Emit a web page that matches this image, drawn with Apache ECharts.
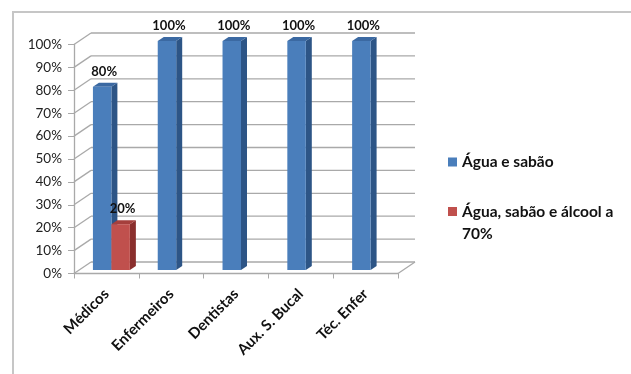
<!DOCTYPE html>
<html>
<head>
<meta charset="utf-8">
<script src="https://cdn.jsdelivr.net/npm/echarts@6/dist/echarts.min.js"></script>
<style>
  html, body { margin: 0; padding: 0; background: #fff; }
  #chart { width: 631px; height: 374px; }
</style>
</head>
<body>
<div id="chart"></div>
<script>
// Produtos usados na higiene das mãos, por categoria profissional
const categories = ['Médicos', 'Enfermeiros', 'Dentistas', 'Aux. S. Bucal', 'Téc. Enfer'];
const seriesNames = ['Água e sabão', 'Água, sabão e álcool a 70%'];
const aguaSabao = [80, 100, 100, 100, 100];
const aguaSabaoAlcool = [20, null, null, null, null];
const yTicks = [0, 10, 20, 30, 40, 50, 60, 70, 80, 90, 100];

// 3D look: offset of the back wall, of the bar faces and of the bar depth
const WALL = [17, -11.5];
const FACE = [5, -3.5];
const SIDE = [6, -4];
const GRID_COLOR = '#a9a9a9';
const FONT = 'Lato, "Open Sans", sans-serif';

const palette = [
  { front: '#4a7ebb', side: '#2d5586', top: '#3b69a2' },
  { front: '#c0504d', side: '#8a2f2d', top: '#a53f3c' }
];

// legend squares: a 9px square inside a 31px tall slot (tiny corner dots fix the box)
const ICON_MIDDLE = 'path://M0,0h0.01v0.01h-0.01zM0,11h9v9h-9zM0,31h0.01v0.01h-0.01z';
const ICON_TOP = 'path://M0,0h9v9h-9zM0,31h0.01v0.01h-0.01z';

function wallItem(params, api) {
  const cs = params.coordSys;
  const v = api.value(0);
  const y = api.coord([0, v])[1];
  const x0 = cs.x, x1 = cs.x + cs.width;
  const st = { stroke: GRID_COLOR, lineWidth: 1.3 };
  const children = [
    { type: 'line', shape: { x1: x0 + WALL[0], y1: y + WALL[1], x2: x1 + WALL[0], y2: y + WALL[1] }, style: st },
    { type: 'line', shape: { x1: x0, y1: y, x2: x0 + WALL[0], y2: y + WALL[1] }, style: st }
  ];
  if (v === 0) {
    children.push({ type: 'line', shape: { x1: x1, y1: y, x2: x1 + WALL[0], y2: y + WALL[1] }, style: st });
  }
  return { type: 'group', children: children };
}

function barRenderer(s) {
  return function (params, api) {
    const v = api.value(1);
    if (v == null || isNaN(v)) return null;
    const band = api.size([1, 0])[0];
    const bw = band * 0.285;
    const base = api.coord([api.value(0), 0]);
    const top = api.coord([api.value(0), v]);
    const x0 = base[0] - bw + s * bw + FACE[0];
    const yb = base[1] + FACE[1];
    const yt = top[1] + FACE[1];
    const c = palette[s];
    return {
      type: 'group',
      children: [
        { type: 'polygon', shape: { points: [[x0 + bw, yt], [x0 + bw + SIDE[0], yt + SIDE[1]], [x0 + bw + SIDE[0], yb + SIDE[1]], [x0 + bw, yb]] }, style: { fill: c.side } },
        { type: 'polygon', shape: { points: [[x0, yt], [x0 + SIDE[0], yt + SIDE[1]], [x0 + bw + SIDE[0], yt + SIDE[1]], [x0 + bw, yt]] }, style: { fill: c.top } },
        { type: 'rect', shape: { x: x0, y: yt, width: bw, height: yb - yt }, style: { fill: c.front } },
        { type: 'text', x: x0 + bw / 2 + 2, y: yt - 15, style: { text: v + '%', fill: '#111', font: 'bold 13px ' + FONT, align: 'center', verticalAlign: 'middle' } }
      ]
    };
  };
}

const legendText = { fontFamily: FONT, fontSize: 15.5, fontWeight: 'bold', color: '#111', lineHeight: 22 };

const chart = echarts.init(document.getElementById('chart'), null, { renderer: 'canvas' });
chart.setOption({
  animation: false,
  backgroundColor: '#fff',
  textStyle: { fontFamily: FONT },
  graphic: [
    { type: 'rect', shape: { x: 13, y: 12, width: 640, height: 400 }, style: { fill: 'none', stroke: '#c6c6c6', lineWidth: 2 }, silent: true }
  ],
  grid: { left: 74, top: 44.5, width: 324, height: 229, containLabel: false, outerBoundsMode: 'none' },
  legend: [
    {
      left: 443, top: 141.5,
      itemWidth: 9, itemHeight: 31, itemGap: 8,
      selectedMode: false,
      textStyle: legendText,
      data: [{ name: seriesNames[0], icon: ICON_MIDDLE }]
    },
    {
      left: 443, top: 195.5,
      itemWidth: 9, itemHeight: 31, itemGap: 8,
      selectedMode: false,
      textStyle: legendText,
      formatter: name => name.replace(/ (\S+)$/, '\n$1'),
      data: [{ name: seriesNames[1], icon: ICON_TOP }]
    }
  ],
  xAxis: {
    type: 'category',
    data: categories,
    axisLine: { show: true, lineStyle: { color: GRID_COLOR, width: 1.3 } },
    axisTick: { show: true, length: 5, lineStyle: { color: GRID_COLOR } },
    axisLabel: { rotate: 45, margin: 18, fontSize: 15, fontWeight: 'bold', color: '#111', fontFamily: FONT }
  },
  yAxis: {
    type: 'value',
    min: 0,
    max: 100,
    interval: 10,
    axisLine: { show: true, lineStyle: { color: GRID_COLOR, width: 1.3 } },
    axisTick: { show: true, length: 6, lineStyle: { color: GRID_COLOR } },
    splitLine: { show: false },
    axisLabel: { formatter: '{value}%', margin: 12, fontSize: 13.5, color: '#222', fontFamily: FONT }
  },
  series: [
    {
      name: 'walls',
      type: 'custom',
      renderItem: wallItem,
      data: yTicks.map(v => [v]),
      encode: { y: 0 },
      z: 1,
      silent: true
    },
    {
      name: seriesNames[0],
      type: 'custom',
      renderItem: barRenderer(0),
      itemStyle: { color: palette[0].front },
      data: aguaSabao.map((v, i) => [i, v]),
      encode: { x: 0, y: 1 },
      z: 3
    },
    {
      name: seriesNames[1],
      type: 'custom',
      renderItem: barRenderer(1),
      itemStyle: { color: palette[1].front },
      data: aguaSabaoAlcool.map((v, i) => [i, v == null ? '-' : v]),
      encode: { x: 0, y: 1 },
      z: 3
    }
  ]
});
</script>
</body>
</html>
